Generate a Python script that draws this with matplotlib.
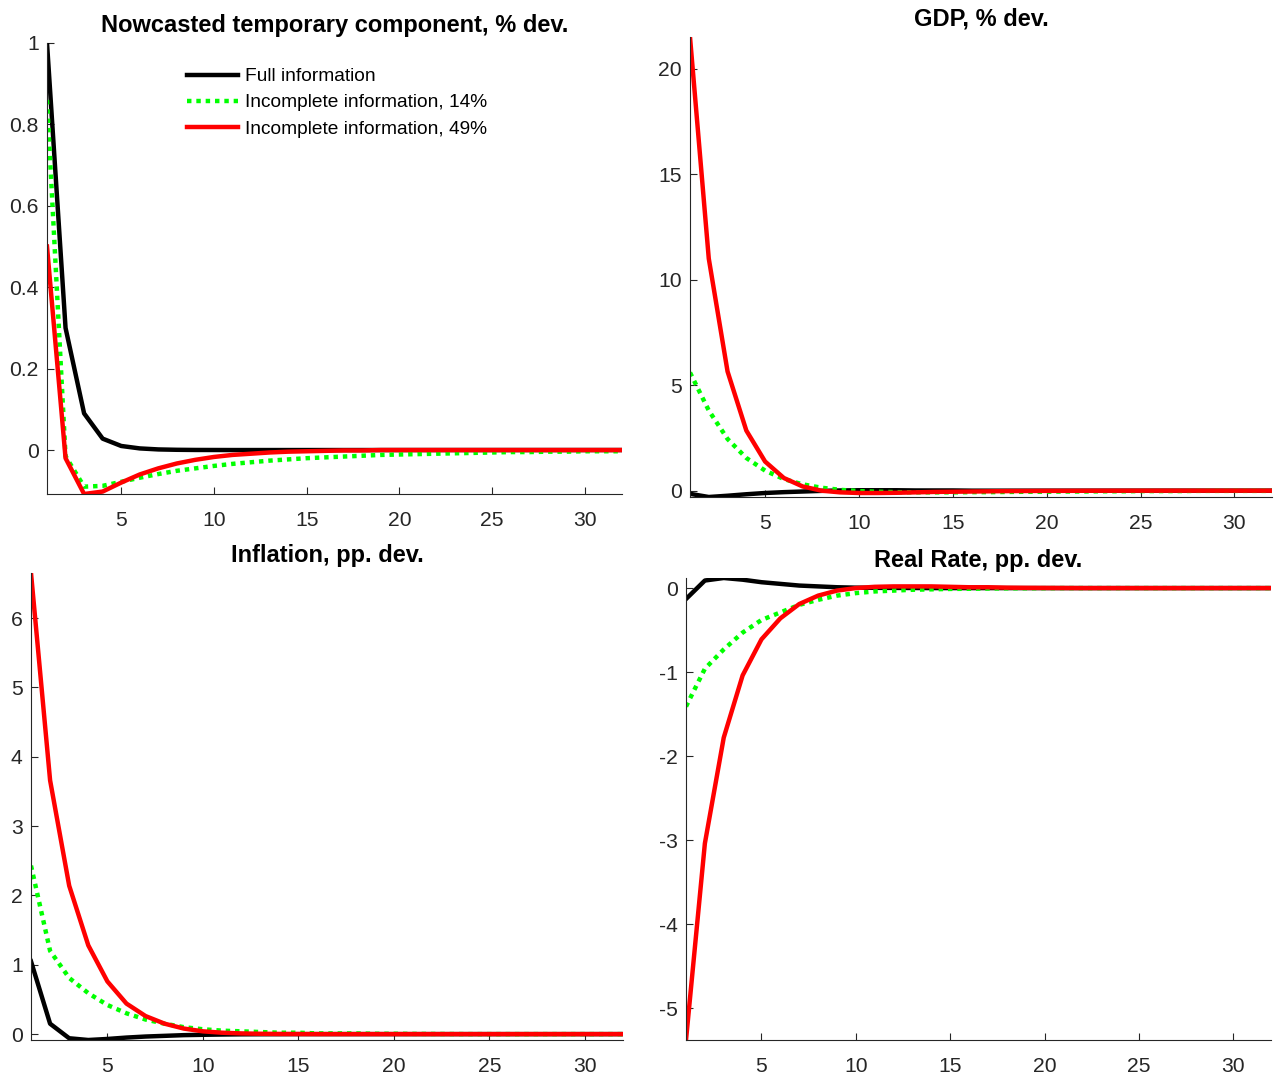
import numpy as np
import matplotlib
matplotlib.use("Agg")
import matplotlib.pyplot as plt

plt.rcParams['font.family'] = ['Liberation Sans', 'DejaVu Sans']

horizon = np.arange(1, 33)

labels = ["Full information", "Incomplete information, 14%", "Incomplete information, 49%"]

# nowcasted temporary component
temp_full = [1.0, 0.30, 0.09, 0.028, 0.010, 0.004, 0.0015, 0.0006, 0.0002, 0.0001,
             0, 0, 0, 0, 0, 0, 0, 0, 0, 0, 0, 0, 0, 0, 0, 0, 0, 0, 0, 0, 0, 0]
temp_14 = [0.86, -0.015, -0.090, -0.088, -0.078, -0.068, -0.059, -0.051, -0.045, -0.039,
           -0.034, -0.030, -0.026, -0.023, -0.020, -0.018, -0.016, -0.014, -0.012, -0.011,
           -0.010, -0.009, -0.008, -0.007, -0.006, -0.005, -0.005, -0.004, -0.004, -0.003,
           -0.003, -0.003]
temp_49 = [0.50, -0.02, -0.108, -0.102, -0.080, -0.060, -0.045, -0.033, -0.024, -0.017,
           -0.012, -0.009, -0.006, -0.004, -0.003, -0.002, -0.001, -0.001, 0, 0,
           0, 0, 0, 0, 0, 0, 0, 0, 0, 0, 0, 0]

# GDP
gdp_full = [-0.15, -0.30, -0.24, -0.17, -0.11, -0.07, -0.04, -0.01, 0.01, 0.02,
            0.02, 0.02, 0.01, 0.01, 0.01, 0, 0, 0, 0, 0,
            0, 0, 0, 0, 0, 0, 0, 0, 0, 0, 0, 0]
gdp_14 = [5.6, 3.8, 2.45, 1.55, 0.95, 0.55, 0.30, 0.14, 0.04, -0.02,
          -0.05, -0.07, -0.08, -0.08, -0.08, -0.07, -0.07, -0.06, -0.05, -0.05,
          -0.04, -0.04, -0.03, -0.03, -0.02, -0.02, -0.02, -0.01, -0.01, -0.01,
          -0.01, -0.01]
gdp_49 = [21.5, 11.0, 5.65, 2.85, 1.38, 0.60, 0.20, 0.0, -0.08, -0.11,
          -0.11, -0.10, -0.08, -0.06, -0.05, -0.04, -0.03, -0.02, -0.015, -0.01,
          -0.008, -0.005, -0.003, -0.002, -0.001, 0, 0, 0, 0, 0, 0, 0]

# inflation
infl_full = [1.05, 0.15, -0.06, -0.085, -0.07, -0.05, -0.035, -0.025, -0.015, -0.01,
             -0.006, -0.003, -0.002, -0.001, 0, 0, 0, 0, 0, 0,
             0, 0, 0, 0, 0, 0, 0, 0, 0, 0, 0, 0]
infl_14 = [2.43, 1.20, 0.81, 0.59, 0.42, 0.30, 0.21, 0.15, 0.10, 0.07,
           0.05, 0.04, 0.03, 0.02, 0.02, 0.01, 0.01, 0.01, 0.005, 0.005,
           0.003, 0.002, 0.001, 0, 0, 0, 0, 0, 0, 0, 0, 0]
infl_49 = [6.65, 3.66, 2.14, 1.28, 0.76, 0.44, 0.26, 0.15, 0.08, 0.04,
           0.02, 0.01, 0.005, 0.002, 0.001, 0, 0, 0, 0, 0,
           0, 0, 0, 0, 0, 0, 0, 0, 0, 0, 0, 0]

# real rate
rr_full = [-0.13, 0.09, 0.12, 0.10, 0.07, 0.05, 0.03, 0.02, 0.01, 0.005,
           0.003, 0.002, 0.001, 0, 0, 0, 0, 0, 0, 0,
           0, 0, 0, 0, 0, 0, 0, 0, 0, 0, 0, 0]
rr_14 = [-1.41, -0.96, -0.73, -0.53, -0.38, -0.29, -0.20, -0.14, -0.09, -0.06,
         -0.04, -0.03, -0.02, -0.015, -0.01, -0.008, -0.005, -0.003, -0.002, -0.001,
         0, 0, 0, 0, 0, 0, 0, 0, 0, 0, 0, 0]
rr_49 = [-5.38, -3.04, -1.78, -1.04, -0.61, -0.36, -0.19, -0.09, -0.03, 0.0,
         0.015, 0.02, 0.02, 0.02, 0.015, 0.01, 0.01, 0.005, 0.003, 0.002,
         0.001, 0, 0, 0, 0, 0, 0, 0, 0, 0, 0, 0]

panels = [
    ("Nowcasted temporary component, % dev.", temp_full, temp_14, temp_49, [0, 0.2, 0.4, 0.6, 0.8, 1], ["0", "0.2", "0.4", "0.6", "0.8", "1"]),
    ("GDP, % dev.", gdp_full, gdp_14, gdp_49, [0, 5, 10, 15, 20], ["0", "5", "10", "15", "20"]),
    ("Inflation, pp. dev.", infl_full, infl_14, infl_49, [0, 1, 2, 3, 4, 5, 6], ["0", "1", "2", "3", "4", "5", "6"]),
    ("Real Rate, pp. dev.", rr_full, rr_14, rr_49, [-5, -4, -3, -2, -1, 0], ["-5", "-4", "-3", "-2", "-1", "0"]),
]

# pixel boxes (left, right, top, bottom)
boxes = [(47, 622, 43, 494), (690, 1272, 37, 497), (31, 623, 573, 1040), (686, 1271, 578, 1040)]

W, H = 1274, 1075
fig = plt.figure(figsize=(W / 100, H / 100), dpi=100)
axcol = (0.15, 0.15, 0.15)

for (title, full, p14, p49, yt, ytl), (l, r, t, b) in zip(panels, boxes):
    ax = fig.add_axes([l / W, 1 - b / H, (r - l) / W, (b - t) / H])
    h1, = ax.plot(horizon, full, color='black', lw=3.2, solid_joinstyle='round')
    h2, = ax.plot(horizon, p14, color=(0, 1, 0), lw=3.2, linestyle=(0, (1, 1.1)))
    h3, = ax.plot(horizon, p49, color=(1, 0, 0), lw=3.2, solid_joinstyle='round')
    allv = np.concatenate([full, p14, p49])
    ax.set_xlim(1, 32)
    ax.set_ylim(allv.min(), allv.max())
    ax.set_xticks([5, 10, 15, 20, 25, 30])
    ax.set_yticks(yt)
    ax.set_yticklabels(ytl)
    for s in ['top', 'right']:
        ax.spines[s].set_visible(False)
    for s in ['left', 'bottom']:
        ax.spines[s].set_color(axcol)
        ax.spines[s].set_linewidth(0.8)
    ax.tick_params(direction='in', length=5, width=0.8, color=axcol,
                   labelcolor=axcol, labelsize=15.2)
    ax.tick_params(axis='x', pad=12)
    ax.tick_params(axis='y', pad=6)
    ax.set_title(title, fontsize=17, fontweight='bold', pad=8)
    if title.startswith("Nowcasted"):
        ax.legend([h1, h2, h3], labels, loc='upper left',
                  bbox_to_anchor=(183 / W, 1 - 64 / H), bbox_transform=fig.transFigure,
                  frameon=False, fontsize=13.8, handlelength=2.65, handletextpad=0.37,
                  labelspacing=0.46, borderaxespad=0, borderpad=0.2)

fig.savefig("out.png", dpi=100)
